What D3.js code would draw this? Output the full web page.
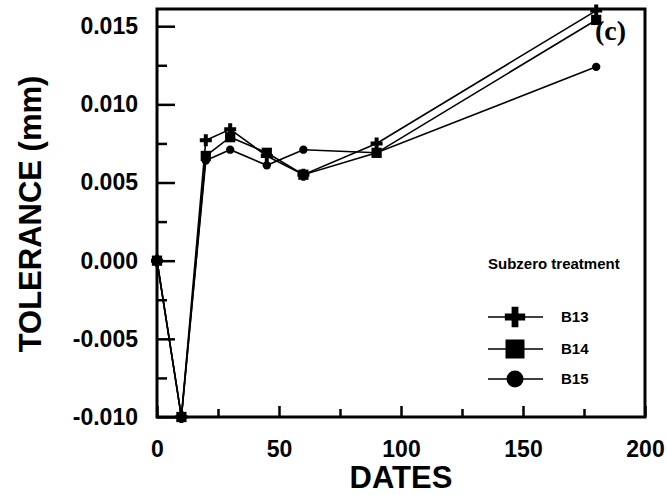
<!DOCTYPE html>
<html>
<head>
<meta charset="utf-8">
<script src="https://cdn.jsdelivr.net/npm/d3@7/dist/d3.min.js"></script>
<style>
  body { margin: 0; background: #fff; }
  svg { display: block; font-family: "Liberation Sans", Arial, sans-serif; }
</style>
</head>
<body>
<div class="vis"></div>
<script>
// data
const dates = [0, 10, 20, 30, 45, 60, 90, 180];
const b13 = [0.0, -0.010, 0.0077, 0.0084, 0.0067, 0.0055, 0.0075, 0.0160];
const b14 = [0.0, -0.010, 0.0067, 0.0079, 0.0069, 0.0055, 0.0069, 0.0154];
const b15 = [0.0, -0.010, 0.0064, 0.0071, 0.0061, 0.0071, 0.0069, 0.0124];
const seriesNames = ['B13', 'B14', 'B15'];
const xTicks = [0, 50, 100, 150, 200];
const xMinor = [25, 75, 125, 175];
const yTicks = [-0.010, -0.005, 0.000, 0.005, 0.010, 0.015];
const yMinor = [-0.0075, -0.0025, 0.0025, 0.0075, 0.0125];

const W = 667, H = 495;
const margin = {top: 9, right: 22, bottom: 78, left: 157};
const width = W - margin.left - margin.right;
const height = H - margin.top - margin.bottom;

const svg = d3.select('.vis').append('svg')
    .attr('width', W)
    .attr('height', H);
const g = svg.append('g')
    .attr('transform', 'translate(' + margin.left + ',' + margin.top + ')');

const x = d3.scaleLinear().domain([0, 200]).range([0, width]);
const y = d3.scaleLinear().domain([-0.010, 0.0161]).range([height, 0]);

// minor ticks
g.append('g')
    .attr('transform', 'translate(0,' + height + ')')
    .call(d3.axisBottom(x).tickValues(xMinor).tickSizeInner(-8).tickSizeOuter(0).tickFormat(''))
    .call(a => a.select('.domain').remove())
    .call(a => a.selectAll('line').attr('stroke-width', 2.5));
g.append('g')
    .call(d3.axisLeft(y).tickValues(yMinor).tickSizeInner(-10).tickSizeOuter(0).tickFormat(''))
    .call(a => a.select('.domain').remove())
    .call(a => a.selectAll('line').attr('stroke-width', 2.5));

// major ticks + labels
g.append('g')
    .attr('transform', 'translate(0,' + height + ')')
    .call(d3.axisBottom(x).tickValues(xTicks).tickSizeInner(-11).tickSizeOuter(0).tickPadding(24))
    .call(a => a.select('.domain').remove())
    .call(a => a.selectAll('line').attr('stroke-width', 2.5))
    .call(a => a.selectAll('text')
        .attr('font-size', 23).attr('font-weight', 'bold').attr('fill', '#000')
        .attr('font-family', '"Liberation Sans", Arial, sans-serif'));
g.append('g')
    .call(d3.axisLeft(y).tickValues(yTicks).tickSizeInner(-18).tickSizeOuter(0).tickPadding(19)
        .tickFormat(d => d.toFixed(3)))
    .call(a => a.select('.domain').remove())
    .call(a => a.selectAll('line').attr('stroke-width', 2.5))
    .call(a => a.selectAll('text')
        .attr('font-size', 23).attr('font-weight', 'bold').attr('fill', '#000')
        .attr('font-family', '"Liberation Sans", Arial, sans-serif'));

// frame
g.append('rect')
    .attr('width', width).attr('height', height)
    .attr('fill', 'none').attr('stroke', '#000').attr('stroke-width', 3);

// series
const symbols = {B13: d3.symbolCross, B14: d3.symbolSquare, B15: d3.symbolCircle};
const plotSize = {B13: 80, B14: 105, B15: 55};
const legendSize = {B13: 230, B14: 361, B15: 227};
const table = {B13: b13, B14: b14, B15: b15};

const line = d3.line()
    .x((d, i) => x(dates[i]))
    .y(d => y(d));

['B15', 'B13', 'B14'].forEach(name => {
    const vals = table[name];
    g.append('path')
        .datum(vals)
        .attr('d', line)
        .attr('fill', 'none')
        .attr('stroke', '#000')
        .attr('stroke-width', 1.6);
    g.selectAll('.pt-' + name)
        .data(vals)
        .enter().append('path')
        .attr('class', 'pt-' + name)
        .attr('transform', (d, i) => 'translate(' + x(dates[i]) + ',' + y(d) + ')')
        .attr('d', d3.symbol().type(symbols[name]).size(plotSize[name]))
        .attr('fill', '#000');
});

// (c) tag
g.append('text')
    .attr('x', 438).attr('y', 31)
    .attr('font-family', '"Liberation Serif", "Times New Roman", serif')
    .attr('font-weight', 'bold').attr('font-size', 28)
    .text('(c)');

// legend
const leg = g.append('g').attr('transform', 'translate(331,0)');
leg.append('text')
    .attr('x', 0).attr('y', 260)
    .attr('font-size', 15).attr('font-weight', 'bold')
    .text('Subzero treatment');
const rowY = [308, 340, 370];
seriesNames.forEach((name, i) => {
    const r = leg.append('g').attr('transform', 'translate(0,' + rowY[i] + ')');
    r.append('line').attr('x1', 0).attr('x2', 55)
        .attr('stroke', '#000').attr('stroke-width', 1.6);
    r.append('path')
        .attr('transform', 'translate(27,0)')
        .attr('d', d3.symbol().type(symbols[name]).size(legendSize[name]))
        .attr('fill', '#000');
    r.append('text')
        .attr('x', 73).attr('dy', '0.35em')
        .attr('font-size', 15).attr('font-weight', 'bold')
        .text(name);
});

// axis titles
svg.append('text')
    .attr('x', margin.left + width / 2).attr('y', 488)
    .attr('text-anchor', 'middle')
    .attr('font-size', 31).attr('font-weight', 'bold')
    .text('DATES');
svg.append('text')
    .attr('transform', 'translate(41,' + 214 + ') rotate(-90)')
    .attr('text-anchor', 'middle')
    .attr('font-size', 31).attr('font-weight', 'bold')
    .text('TOLERANCE (mm)');
</script>
</body>
</html>
